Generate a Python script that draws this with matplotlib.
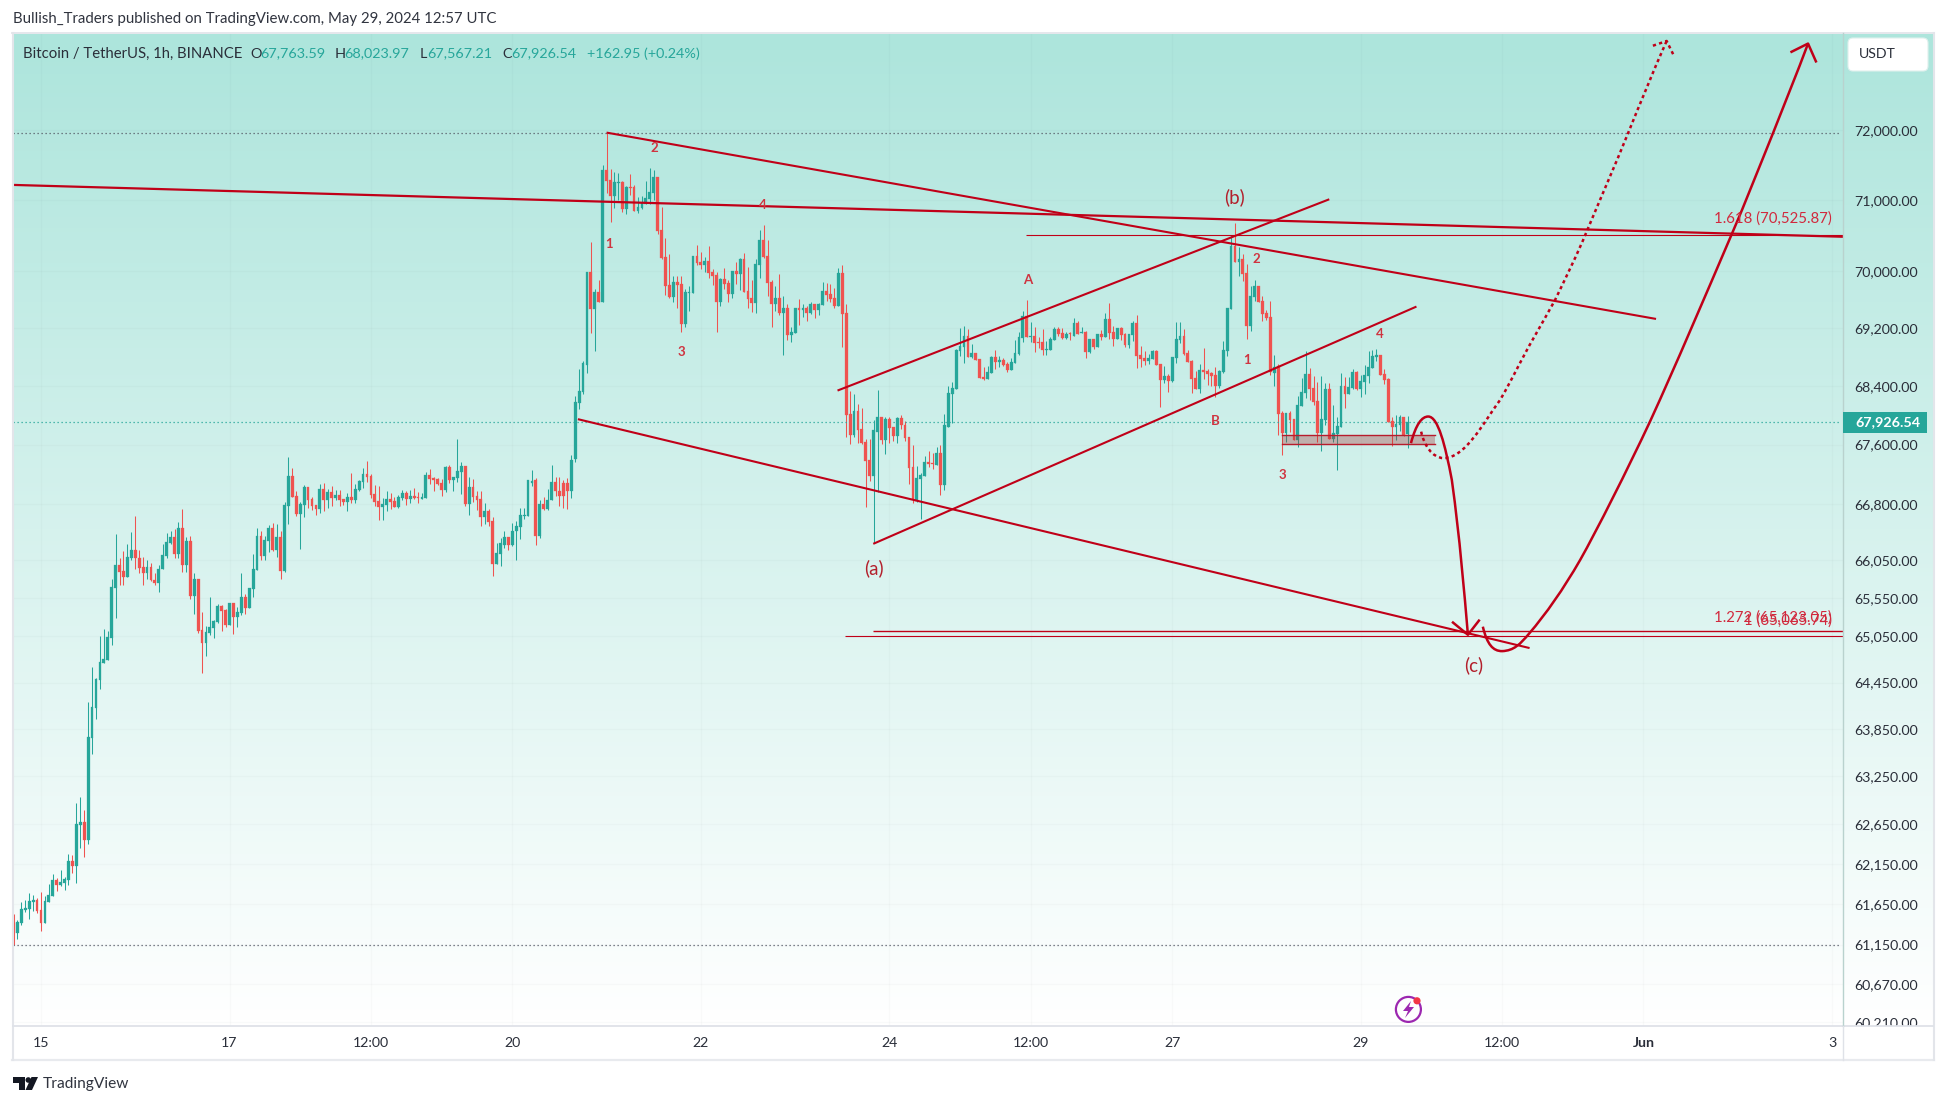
import numpy as np
import matplotlib
matplotlib.use("Agg")
import matplotlib.pyplot as plt
from matplotlib.colors import LinearSegmentedColormap
from matplotlib.patches import PathPatch, Rectangle, Circle, Polygon, FancyBboxPatch
from matplotlib.path import Path
from matplotlib.transforms import Affine2D
from matplotlib.ticker import NullLocator

W, H = 1946, 1105
FONT = "Lato"
plt.rcParams["font.family"] = FONT

# ---------------------------------------------------------------- data
first_hour = -7   # hours from 15 May 00:00
opens = [
61412,61293,61412,61573,61585,61671,61696,61573,61412,61671,
61746,61945,61883,61908,61945,62181,62119,62632,62670,62444,
63734,64118,64480,64700,64738,65024,65685,65992,65905,65829,
66084,66186,66074,65956,65880,65956,65788,65753,65930,66110,
66279,66356,66135,66479,65982,66303,65575,65803,65127,64957,
65088,65153,65232,65443,65390,65193,65482,65297,65350,65562,
65416,65668,65920,66373,66106,66306,66480,66186,66360,65906,
66775,67179,66909,66668,66788,67030,66869,66788,66735,67003,
66855,66963,66882,66922,66869,66828,66896,66855,66990,67098,
67206,67179,66936,66842,66762,66788,66869,66842,66762,66882,
66950,66869,66909,66891,66869,66882,67192,67152,67138,67084,
66990,67300,67125,67152,67233,67314,66802,67030,66909,66869,
66628,66708,66573,65999,66135,66247,66361,66254,66441,66494,
66640,66640,67079,67119,66378,66805,66733,66853,67092,66973,
67079,67079,66973,67400,68161,68311,68695,69988,69471,69707,
69568,71433,71290,71060,71246,71260,70876,71188,71188,70847,
70890,70947,71018,71103,71333,70578,70198,69805,69637,69847,
69819,69262,69693,69693,70212,70128,70086,70142,69988,69946,
69568,69890,69833,69680,70002,69960,70170,69721,69623,69554,
70086,70438,70212,69847,69540,69623,69415,69485,69109,69137,
69485,69457,69485,69415,69540,69457,69526,69721,69680,69623,
69513,69974,69410,68023,67725,68063,67806,67634,67387,67170,
67778,67981,67657,67954,67833,67711,67968,67873,67698,67292,
66836,67130,67170,67360,67346,67319,67481,67050,67846,68296,
68364,68885,68940,69092,68803,68858,68776,68529,68501,68583,
68803,68735,68762,68707,68625,68721,68844,69065,69369,69078,
69092,69009,69009,68899,68899,69037,69190,69134,69065,69129,
69092,69272,69134,69147,68872,69051,68940,69120,69076,69326,
69145,69048,69200,69118,68966,69104,69270,68826,68785,68744,
68771,68882,68703,68486,68540,68472,68785,69035,69090,68854,
68744,68513,68364,68621,68608,68581,68552,68401,68592,68882,
69466,70350,70123,70165,69967,69226,69632,69786,69572,69404,
69354,68578,68674,68032,67760,68032,67950,67665,68127,68305,
68565,68373,68195,67760,67936,68360,67678,67746,67841,68401,
68291,68373,68592,68360,68455,68537,68647,68799,68827,68565,
68496,67923,67841,67868,67977,67740]
closes = [
61293,61424,61585,61598,61684,61696,61560,61412,61684,61758,
61945,61883,61920,61958,62181,62119,62644,62670,62444,63747,
64131,64493,64712,64751,65037,65701,65992,65900,65829,66094,
66186,66074,65946,65880,65956,65788,65753,65930,66120,66289,
66356,66135,66479,65982,66303,65575,65803,65119,64957,65101,
65167,65246,65443,65377,65193,65482,65297,65364,65562,65416,
65681,65933,66373,66106,66320,66480,66186,66360,65906,66788,
67179,66896,66668,66802,67030,66855,66775,66735,67003,66855,
66963,66882,66922,66855,66828,66896,66855,67003,67111,67206,
67165,66922,66828,66762,66802,66869,66828,66762,66896,66950,
66869,66909,66882,66882,66896,67192,67138,67125,67070,66990,
67300,67125,67165,67246,67314,66802,67030,66896,66855,66628,
66708,66560,65999,66146,66273,66354,66254,66441,66507,66653,
66653,67119,67106,66378,66805,66733,66853,67092,66973,66906,
66906,66973,67398,68175,68325,68709,69988,69471,69707,69568,
71433,71276,71060,71260,71260,70876,71188,71174,70847,70904,
70961,71032,71117,71333,70564,70184,69791,69637,69847,69805,
69262,69707,69707,70212,70114,70086,70142,69974,69932,69568,
69890,69819,69680,70002,69960,70170,69707,69609,69554,70100,
70438,70198,69833,69540,69623,69415,69485,69109,69151,69485,
69457,69485,69415,69540,69457,69540,69721,69665,69609,69513,
69974,69401,68009,67725,68063,67792,67620,67373,67170,67792,
67981,67657,67954,67819,67711,67968,67860,67684,67279,66862,
67144,67184,67360,67333,67333,67481,67050,67860,68310,68378,
68899,68954,69092,68803,68858,68762,68515,68501,68597,68803,
68735,68762,68694,68625,68735,68858,69078,69369,69078,69092,
68996,68996,68899,68913,69051,69190,69120,69065,69120,69115,
69272,69120,69147,68872,69051,68940,69120,69078,69326,69131,
69048,69200,69104,68966,69118,69270,68812,68771,68744,68785,
68882,68689,68486,68540,68472,68799,69048,69090,68840,68730,
68499,68364,68621,68594,68567,68540,68401,68606,68895,69480,
70350,70123,70165,69953,69226,69646,69786,69558,69390,69340,
68592,68660,68018,67760,68032,67936,67665,68140,68319,68565,
68360,68182,67760,67950,68360,67678,67760,67855,68401,68291,
68387,68592,68360,68469,68551,68660,68813,68827,68551,68483,
67909,67841,67882,67977,67733,67909]
highs = [
61523,61449,61671,61696,61783,61758,61721,61796,61746,61895,
62019,61970,62069,61983,62268,62256,62909,62985,62820,64195,
64648,64510,65050,65142,65115,65803,66403,66074,66172,66264,
66427,66644,66186,66094,66059,66008,65880,65982,66264,66417,
66442,66469,66562,66737,66365,66375,65880,65803,65364,65180,
65562,65259,65470,65456,65403,65482,65482,65430,65880,65602,
65681,66133,66480,66440,66373,66520,66547,66533,66440,66828,
67435,67287,66976,66828,67057,67030,66896,66788,67070,67084,
67003,67043,66990,66990,66869,66950,67219,67070,67125,67287,
67380,67206,67057,67043,66882,66976,66950,66896,66922,66990,
66976,66990,67016,66963,66950,67233,67273,67165,67152,67138,
67314,67327,67165,67678,67368,67314,67165,67138,66976,66976,
66815,66735,66628,66280,66348,66441,66361,66547,66574,66747,
66747,67119,67252,67146,66853,66893,67000,67318,67159,67159,
67119,67146,67465,68256,68640,68750,69988,70410,69749,69876,
71505,71966,71447,71404,71390,71276,71202,71376,71216,71046,
71060,71276,71461,71433,71333,70904,70466,70240,69932,69932,
69932,69749,69791,70212,70368,70269,70198,70354,70030,69988,
69904,70044,69876,70002,70128,70184,70254,70058,69876,70170,
70578,70649,70438,69876,69791,69960,69651,69540,69220,69485,
69610,69540,69513,69568,69540,69554,69847,69833,69819,69763,
70044,70086,69535,68337,68296,68158,68104,67670,67670,67941,
68351,67981,67981,67981,67833,67981,68009,67927,67698,67589,
67306,67211,67441,67508,67481,67562,67589,68023,68405,68460,
68913,69203,69231,69190,68982,68858,68776,68666,68680,68817,
68899,68817,68790,68735,68790,69037,69147,69439,69591,69286,
69217,69078,69190,69023,69078,69217,69217,69203,69147,69147,
69342,69300,69217,69161,69051,69051,69120,69175,69409,69549,
69227,69200,69214,69131,69118,69298,69381,68951,68882,68840,
68896,68896,68703,68675,68567,68799,69284,69284,69187,68896,
68758,68608,68703,68925,68635,68594,68662,68620,69020,69480,
70505,70669,70335,70236,70094,69786,69870,69786,69642,69446,
69572,68827,68702,68059,68032,68059,67950,68264,68510,68882,
68648,68537,68455,68537,68442,68442,68140,67977,68578,68524,
68524,68633,68606,68551,68688,68882,68895,68910,68827,68633,
68510,67977,68005,68005,67977,67992]
lows = [
61142,61215,61392,61548,61461,61560,61535,61314,61412,61671,
61746,61808,61870,61820,61883,62031,61908,62343,62231,62393,
63530,63978,64363,64700,64738,64943,65286,65727,65727,65829,
66059,65930,65880,65727,65803,65778,65727,65636,65930,66084,
66264,66084,66084,65889,65889,65544,65346,65094,64577,64799,
65062,65022,65219,65114,65167,65193,65075,65167,65324,65337,
65416,65562,65920,66053,66053,66159,66172,66092,65800,65893,
66533,66896,66641,66199,66628,66748,66721,66655,66681,66708,
66748,66775,66855,66775,66788,66708,66815,66815,66976,67016,
67098,66882,66775,66588,66588,66708,66735,66762,66748,66855,
66788,66815,66869,66815,66869,66882,67070,66976,67057,66909,
66963,67084,66976,67098,66936,66775,66655,66828,66721,66507,
66533,66507,65839,65999,65980,66215,66188,66241,66055,66334,
66600,66640,67039,66254,66340,66720,66720,66853,66906,66773,
66747,66733,66880,67360,68080,68284,68585,69137,68888,69568,
69568,71103,70692,70890,71003,70833,70805,71074,70847,70819,
70876,70947,70947,71003,70522,70170,69665,69623,69567,69485,
69151,69220,69443,69693,70086,70030,69988,69904,69805,69151,
69513,69749,69568,69623,69819,69735,69707,69485,69429,69415,
69904,70184,69651,69220,69443,69387,68833,69040,69012,69137,
69248,69346,69304,69401,69332,69374,69526,69582,69568,69485,
69513,68930,67698,67603,67698,67620,67607,66755,67104,66280,
66956,67603,67467,67620,67643,67620,67806,67643,67063,66809,
66822,66594,67170,67292,67265,67319,66916,66983,67846,67900,
68364,68817,68721,68803,68790,68762,68515,68488,68501,68583,
68639,68666,68680,68597,68625,68721,68831,69009,69078,69009,
68872,68927,68831,68831,68899,69037,69092,69051,69051,69037,
69092,69120,69134,68790,68858,68913,68940,69037,69076,69048,
68951,69048,69035,68938,68925,69021,68647,68662,68689,68703,
68771,68689,68114,68442,68319,68459,68716,68993,68826,68730,
68306,68360,68306,68497,68414,68401,68247,68374,68578,68813,
69466,70123,69926,69855,69046,69155,69576,69558,69298,69312,
68550,68400,67733,67462,67638,67773,67665,67570,68127,68236,
68209,68140,67638,67516,67868,67678,67638,67261,67841,68100,
68291,68360,68346,68250,68291,68442,68647,68744,68551,68428,
67909,67583,67665,67787,67719,67550]

price_ticks = [72000,71000,70000,69200,68400,67600,66800,66050,65550,65050,
               64450,63850,63250,62650,62150,61650,61150,60670,60210]
time_ticks = [0,48,84,120,168,216,252,288,336,372,408,456]
time_labels = ['15','17','12:00','20','22','24','12:00','27','29','12:00','Jun','3']

high_level, last_level, low_level = 71961, 67909, 61150

# drawings: (hour, price)
long_line = [(-7.13, 71215), (458.8, 70478)]
upper_wedge = [(144, 71966), (411.2, 69326)]
lower_wedge = [(136.7, 67946), (379, 64897)]
channel_top = [(202.8, 68337), (328, 71010)]
channel_low = [(211.9, 66268), (350.2, 69498)]
fib_1618 = [(250.8, 70500), (458.8, 70500)]
fib_1272 = [(211.8, 65113), (458.8, 65113)]
fib_1000 = [(204.8, 65049), (458.8, 65049)]
zone = (316, 67606, 354.9, 67733)   # left hour, low, right hour, high

drop_curve = [(348.8,67620),(350.1,67882),(351.6,67982),(353.2,67982),(355.7,67982),(357.5,67597),
              (359.2,67124),(361.3,66321),(362.3,65660),(363.3,65070)]
drop_head = [(359.5,65230),(363.3,65070),(366.1,65255)]
main_curve = [(367.1,65176),(368.2,64942),(369.7,64857),(372,64857),(375,64863),(376.6,64946),
              (378.9,65087),(383.2,65345),(387.5,65660),(391.9,66056),(396.2,66455),(403.8,67248),
              (409.7,67918),(416.5,68717),(423.4,69605),(430.5,70518),(433.9,70958),(437.4,71458),
              (441,71961),(444,72395),(447.1,72832),(449.9,73263)]
main_head = [(445.7,73142),(449.9,73263),(451.9,73002)]
alt_curve = [(351.4,67776),(352.1,67597),(354.2,67421),(357.1,67417),(362.6,67421),(366.9,67868),
             (371.5,68209),(374.5,68484),(377.1,68787),(379.9,69049),(381.9,69244),(383.7,69410),
             (385.5,69591),(388.3,69913),(391.1,70222),(393.5,70547),(396.9,71000),(400.8,71501),
             (404.1,71961),(407.1,72381),(410.4,72847),(413.9,73301)]
alt_head = [(410.4,73231),(413.9,73301),(415.9,73066)]

# ---------------------------------------------------------------- styling
GREEN, RED = "#26a69a", "#ef5350"
LINE = "#c00018"
TXT = "#2a2e39"
FIB = "#d1293d"
WAVE = "#cf3440"

def fx(x): return x / W
def fy(y): return 1 - y / H

fig = plt.figure(figsize=(W / 100, H / 100), dpi=100, facecolor="white")
px = Affine2D().scale(1 / W, -1 / H).translate(0, 1) + fig.transFigure

# gradient pane
bg = fig.add_axes([fx(13), fy(1026), (1933 - 13) / W, (1026 - 33.5) / H], zorder=0)
cmap = LinearSegmentedColormap.from_list("pane", ["#ade5dc", "#ffffff"])
bg.imshow(np.linspace(0, 1, 256)[:, None], aspect="auto", cmap=cmap, interpolation="bilinear")
bg.axis("off")

ax = fig.add_axes([fx(13), fy(1026), (1843 - 13) / W, (1026 - 33.5) / H], zorder=1)
ax.patch.set_alpha(0)
ax.set_yscale("log")
ax.set_xlim(-7.13, 458.8)
ax.set_ylim(60159, 73411)
for s in ax.spines.values():
    s.set_visible(False)

ax.yaxis.tick_right()
ax.yaxis.set_minor_locator(NullLocator())
ax.set_yticks(price_ticks)
ax.set_yticklabels([f"{v:,.2f}" for v in price_ticks])
ax.set_xticks(time_ticks)
ax.set_xticklabels(time_labels)
ax.tick_params(axis="y", which="both", length=0, pad=8, labelsize=10.2, labelcolor=TXT)
ax.tick_params(axis="x", length=0, pad=8, labelsize=10.2, labelcolor=TXT)
ax.grid(True, color="#2a2e39", alpha=0.025, lw=1)
ax.set_axisbelow(True)
ax.get_xticklabels()[10].set_fontweight("bold")
clip = Rectangle((1843, 33), 100, 993, transform=px)
for lbl in ax.get_yticklabels():
    lbl.set_clip_path(clip)
    lbl.set_clip_on(True)

# candles
hours = np.arange(first_hour, first_hour + len(opens))
o, h, l, c = map(np.array, (opens, highs, lows, closes))
colors = np.where(c >= o, GREEN, RED)
ax.vlines(hours, l, h, colors=colors, lw=0.75, zorder=2)
ax.bar(hours, np.maximum(np.abs(c - o), 4), bottom=np.minimum(o, c), width=0.72,
       color=colors, edgecolor=colors, linewidth=0.2, zorder=3)

# level dots
ax.axhline(high_level, xmax=0.9985, color="#555b66", lw=0.9, ls=(0, (1, 2.2)), zorder=2)
ax.axhline(low_level, xmax=0.9985, color="#555b66", lw=0.9, ls=(0, (1, 2.2)), zorder=2)
ax.axhline(last_level, xmax=0.9985, color=GREEN, lw=0.9, ls=(0, (1, 2.2)), zorder=2)

# trend lines
for seg, lw in [(long_line, 1.6), (upper_wedge, 1.5), (lower_wedge, 1.5), (channel_top, 1.5),
                (channel_low, 1.5), (fib_1618, 0.8), (fib_1272, 1.0), (fib_1000, 0.8)]:
    xs, ys = zip(*seg)
    ax.plot(xs, ys, color=LINE, lw=lw, zorder=5, solid_capstyle="butt")

ax.add_patch(Rectangle((zone[0], zone[1]), zone[2] - zone[0], zone[3] - zone[1],
                       facecolor="#a52a2a", alpha=0.32, edgecolor="none", zorder=4))
ax.plot([zone[0], zone[2]], [zone[1], zone[1]], color="#b71c2c", lw=1.0, zorder=4)
ax.plot([zone[0], zone[2]], [zone[3], zone[3]], color="#b71c2c", lw=1.0, zorder=4)

def bezier(points, lw, ls="-"):
    codes = [Path.MOVETO] + [Path.CURVE4] * (len(points) - 1)
    ax.add_patch(PathPatch(Path(points, codes), fill=False, edgecolor=LINE, lw=lw, ls=ls,
                           zorder=6, clip_on=False))

DOTS = (0, (1.3, 1.3))
bezier(drop_curve, 1.8)
bezier(main_curve, 1.8)
bezier(alt_curve, 1.8, DOTS)
for head, ls in [(drop_head, "-"), (main_head, "-"), (alt_head, DOTS)]:
    xs, ys = zip(*head)
    ax.plot(xs, ys, color=LINE, lw=1.8, ls=ls, zorder=6, clip_on=False)

# ---------------------------------------------------------------- frame
def hline(y, x0, x1, color, lw=1.0):
    fig.add_artist(plt.Line2D([x0, x1], [y, y], transform=px, color=color, lw=lw, zorder=3))
def vline(x, y0, y1, color, lw=1.0):
    fig.add_artist(plt.Line2D([x, x], [y0, y1], transform=px, color=color, lw=lw, zorder=3))

hline(33, 12, 1934, "#e3e5ea", 1.3)
hline(1060, 12, 1934, "#e8eaee", 1.6)
vline(12.5, 33, 1060, "#e3e5ea", 1.5)
vline(1933.5, 33, 1060, "#e3e5ea", 1.5)
hline(1026, 13, 1933, "#dfe2e8", 1.3)
vline(1843, 33, 1026, "#b9d2ce", 1.0)
vline(1843, 1026, 1060, "#dfe2e8", 1.0)

# ---------------------------------------------------------------- texts
def T(x, y, s, **kw):
    kw.setdefault("va", "center")
    kw.setdefault("ha", "left")
    kw.setdefault("fontsize", 10.2)
    kw.setdefault("color", TXT)
    kw.setdefault("zorder", 8)
    return fig.text(fx(x), fy(y), s, **kw)

T(13, 19, "Bullish_Traders published on TradingView.com, May 29, 2024 12:57 UTC", fontsize=10.8, color="#30343f")
T(23, 53.5, "Bitcoin / TetherUS, 1h, BINANCE", fontsize=10.7)
for x, s in [(250, "O"), (335, "H"), (420, "L"), (502.5, "C")]:
    T(x, 53.5, s, fontsize=10.4)
for x, s in [(260, "67,763.59"), (344, "68,023.97"), (427.5, "67,567.21"), (511, "67,926.54"),
             (586.7, "+162.95 (+0.24%)")]:
    T(x, 53.5, s, fontsize=10.4, color=GREEN)

T(1832, 218.6, "1.618 (70,525.87)", ha="right", color=FIB, fontsize=10.8)
T(1832, 617.4, "1.272 (65,123.05)", ha="right", color=FIB, fontsize=10.8)
T(1832, 621, "1 (65,065.74)", ha="right", color=FIB, fontsize=10.8)

for x, y, s in [(873.7, 568, "(a)"), (1234.8, 197, "(b)"), (1474, 665, "(c)")]:
    T(x, y, s, ha="center", fontsize=13.5, color="#b3202c")
for x, y, s in [(1027.5, 280.5, "A"), (1215, 420.7, "B"), (609.3, 244.5, "1"), (654, 147.7, "2"),
                (681.3, 352.4, "3"), (763, 204.8, "4"), (1247, 360, "1"), (1256, 259.4, "2"),
                (1282, 475.3, "3"), (1380, 333.8, "4")]:
    T(x, y, s, ha="center", fontsize=9.5, color=WAVE, fontweight="bold")

fig.add_artist(FancyBboxPatch((1852, 42), 72, 25, boxstyle="round,pad=4,rounding_size=5", transform=px,
                              facecolor="white", edgecolor="#dff0ed", lw=0.8, zorder=6))
T(1859, 54.3, "USDT", fontsize=10.2)

fig.add_artist(Rectangle((1843, 411.8), 84, 21, transform=px, facecolor=GREEN, edgecolor="none", zorder=6))
T(1855, 422, "67,926.54", color="white", fontweight="bold", fontsize=10.4)

# lightning mark
fig.add_artist(Circle((1408.4, 1009.4), 12.5, transform=px, facecolor="none", edgecolor="#9c27b0", lw=1.6, zorder=7))
fig.add_artist(Polygon([(1411, 1001), (1403, 1011), (1408, 1011), (1405, 1018), (1414, 1007), (1409, 1007)],
                       transform=px, facecolor="#9c27b0", edgecolor="none", zorder=7))
fig.add_artist(Circle((1417, 1000.8), 3.6, transform=px, facecolor="#f23645", edgecolor="none", zorder=8))

# footer
fig.add_artist(Polygon([(13, 1077), (25, 1077), (25, 1090), (19, 1090), (19, 1083), (13, 1083)],
                       transform=px, facecolor="#131722", edgecolor="none", zorder=7))
fig.add_artist(Circle((28.3, 1080), 2.8, transform=px, facecolor="#131722", edgecolor="none", zorder=7))
fig.add_artist(Polygon([(31.5, 1077), (38, 1077), (32, 1090), (25.5, 1090)],
                       transform=px, facecolor="#131722", edgecolor="none", zorder=7))
T(43, 1084, "TradingView", fontsize=11.2, color="#30343f")

fig.savefig("out.png", dpi=100, facecolor="white")
